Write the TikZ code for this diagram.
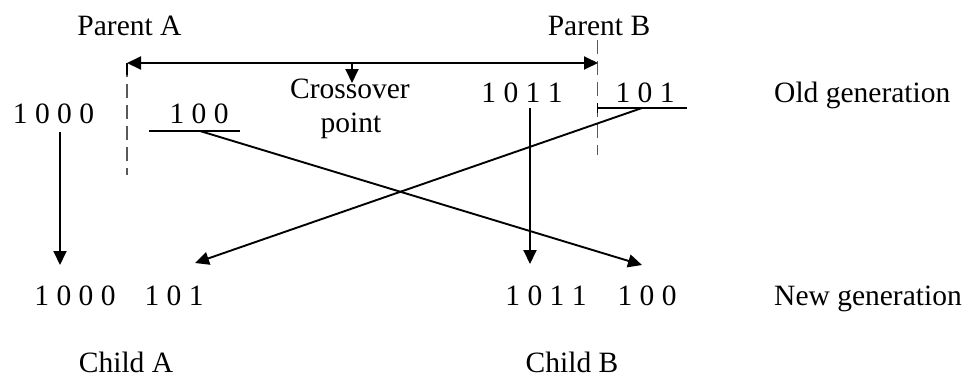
\documentclass[tikz,border=0pt]{standalone}
\usepackage{fontspec}
\setmainfont{Liberation Serif}
\usetikzlibrary{arrows.meta}
\begin{document}
\begin{tikzpicture}[x=1pt,y=-1pt,
  lbl/.style={inner sep=0pt,anchor=base,font=\fontsize{29.5}{34}\selectfont},
  conn/.style={line width=1.9pt,draw=black},
  tip/.style={conn,-{Triangle[length=14pt,width=13pt]}},
  cut/.style={line width=1.9pt,draw=black!65,dash pattern=on 14pt off 7pt}]
\useasboundingbox (0,0) rectangle (969,381);

% parents and crossover marker
\node[lbl] (pa) at (129.5,35) {Parent A};
\node[lbl] (pb) at (599,35) {Parent B};
\node[lbl] (cx) at (350,98) {Crossover};
\node[lbl] (cp) at (351,132) {point};

% old generation strings
\node[lbl] (o1000) at (53.5,123) {1 0 0 0};
\node[lbl] (o100)  at (199,123) {1 0 0};
\node[lbl] (o1011) at (522,102) {1 0 1 1};
\node[lbl] (o101)  at (645,102) {1 0 1};
\node[lbl,anchor=base west] (og) at (774,102) {Old generation};

% new generation strings
\node[lbl] (n1000) at (75,305) {1 0 0 0};
\node[lbl] (n101)  at (174,305) {1 0 1};
\node[lbl] (n1011) at (546,305) {1 0 1 1};
\node[lbl] (n100)  at (647,305) {1 0 0};
\node[lbl,anchor=base west] (ng) at (774,305) {New generation};

\node[lbl] (ca) at (126,372) {Child A};
\node[lbl] (cb) at (572,372) {Child B};

% reference points
\coordinate (cutAtop) at (127,63);
\coordinate (cutAbot) at (127,175);
\coordinate (cutBtop) at (597.5,40);
\coordinate (cutBbot) at (597.5,155);
\coordinate (arL) at (127,63);
\coordinate (arR) at (598,63);
\coordinate (mk) at (352,63);
\coordinate (mkEnd) at (352,83);
\coordinate (u100L) at (149,131);
\coordinate (u100R) at (240,131);
\coordinate (u100M) at (200,131);
\coordinate (u101L) at (597.5,108);
\coordinate (u101R) at (687,108);
\coordinate (u101M) at (642,108);
\coordinate (v1000) at (60,132);
\coordinate (t1000) at (60,265);
\coordinate (v1011) at (530,108);
\coordinate (t1011) at (530,264);
\coordinate (t101) at (195,263);
\coordinate (t100) at (642,265);

% crossover cut lines
\draw[cut] (cutAtop) -- (cutAbot);
\draw[cut] (cutBtop) -- (cutBbot);
\draw[conn] (cutAtop) -- ++(0,12);
\draw[conn] (u101L) ++(0,-5) -- ++(0,10);

% span between the two cut points
\draw[conn,{Triangle[length=14pt,width=13pt]}-{Triangle[length=14pt,width=13pt]}] (arL) -- (arR);
\draw[tip] (mk) -- (mkEnd);

% underlines of the swapped tails
\draw[conn] (u100L) -- (u100R);
\draw[conn] (u101L) -- (u101R);

% inheritance arrows
\draw[tip] (v1000) -- (t1000);
\draw[tip] (v1011) -- (t1011);
\draw[tip] (u101M) -- (t101);
\draw[tip] (u100M) -- (t100);
\end{tikzpicture}
\end{document}
